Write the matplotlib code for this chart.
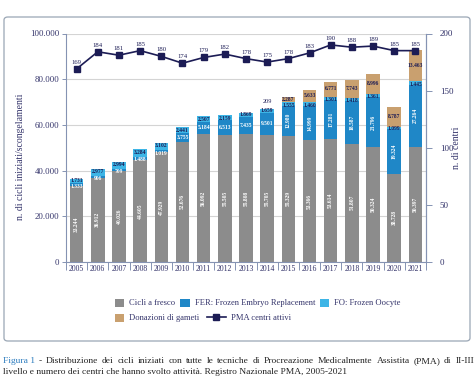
import matplotlib
matplotlib.use('Agg')
import matplotlib.pyplot as plt
import numpy as np
from matplotlib.patches import Patch, FancyBboxPatch
from matplotlib.lines import Line2D

# ---------------- data ----------------
years = [str(y) for y in range(2005, 2022)]
fresco = [33244, 36912, 40026, 44605, 47929, 52676, 56092, 55505, 55808,
          55705, 55329, 53366, 53614, 51807, 50324, 38728, 50397]
fer = [1333, 906, 709, 1488, 1019, 3755, 5184, 6513, 7435,
       9501, 12980, 14999, 17281, 18587, 21796, 19324, 27264]
fo = [1731, 2977, 2994, 3284, 3102, 2441, 2507, 2159, 1869,
      1659, 1555, 1460, 1301, 1418, 1361, 1099, 1445]
donazioni = [0, 0, 0, 0, 0, 0, 0, 0, 0,
             209, 2287, 5633, 6771, 7743, 8996, 8787, 13463]
centri = [169, 184, 181, 185, 180, 174, 179, 182, 178,
          175, 178, 183, 190, 188, 189, 185, 185]

legend_labels = ['Cicli a fresco', 'FER: Frozen Embryo Replacement',
                 'FO: Frozen Oocyte', 'Donazioni di gameti', 'PMA centri attivi']
ylabel_left = 'n. di cicli iniziati/scongelamenti'
ylabel_right = 'n. di centri'
caption_head = 'Figura 1'
caption_line1 = ('- Distribuzione dei cicli iniziati con tutte le tecniche di Procreazione '
                 'Medicalmente Assistita (PMA) di II-III')
caption_line2 = ('livello e numero dei centri che hanno svolto attività. Registro Nazionale PMA, '
                 '2005-2021')


def fmt(v):
    return f"{v:,}".replace(",", ".")


# ---------------- style ----------------
plt.rcParams['font.family'] = ['Liberation Serif', 'DejaVu Serif']
C_GRAY = '#8c8c8c'
C_FER = '#1f87c7'
C_FO = '#3db5e6'
C_DON = '#c9a06f'
C_LINE = '#1c1c55'
C_TXT = '#33336a'
C_SPINE = '#8593b3'

W, H = 474, 381
fig = plt.figure(figsize=(W / 100, H / 100), dpi=100)


def fx(px):
    return px / W


def fy(py):
    return 1 - py / H


box = FancyBboxPatch((fx(4), fy(341)), fx(470) - fx(4), fy(17) - fy(341),
                     boxstyle='round,pad=0,rounding_size=0.008',
                     transform=fig.transFigure, fc='none', ec='#9aa6b4', lw=0.9)
fig.patches.append(box)

ax = fig.add_axes([fx(66), fy(262), fx(426) - fx(66), fy(33.5) - fy(262)])
x = np.arange(len(years))
w = 0.64

fresco_a = np.array(fresco)
fer_a = np.array(fer)
fo_a = np.array(fo)
don_a = np.array(donazioni)

ax.bar(x, fresco_a, w, color=C_GRAY, zorder=2)
b1 = fresco_a
ax.bar(x, fer_a, w, bottom=b1, color=C_FER, zorder=2)
b2 = b1 + fer_a
ax.bar(x, fo_a, w, bottom=b2, color=C_FO, zorder=2)
b3 = b2 + fo_a
ax.bar(x, don_a, w, bottom=b3, color=C_DON, zorder=2)
b4 = b3 + don_a

LFS = 4.0
for i in x:
    ax.text(i, fresco_a[i] / 2, fmt(fresco_a[i]), rotation=90, ha='center', va='center',
            color='white', fontsize=LFS, fontweight='bold', zorder=4)
    if fer_a[i] > 10000:
        ax.text(i, b1[i] + fer_a[i] / 2, fmt(fer_a[i]), rotation=90, ha='center', va='center',
                color='white', fontsize=LFS, fontweight='bold', zorder=4)
    elif fer_a[i] > 3000:
        ax.text(i, b1[i] + fer_a[i] / 2, fmt(fer_a[i]), ha='center', va='center',
                color='white', fontsize=LFS, fontweight='bold', zorder=4)
    else:
        ax.text(i, b2[i] - 250, fmt(fer_a[i]), ha='center', va='top',
                color='white', fontsize=LFS, fontweight='bold', zorder=4)
    if fo_a[i] > 2000:
        ax.text(i, b3[i] - 150, fmt(fo_a[i]), ha='center', va='top',
                color=C_LINE, fontsize=LFS, fontweight='bold', zorder=4)
    else:
        ax.text(i, b2[i] + 200, fmt(fo_a[i]), ha='center',
                va='bottom' if don_a[i] < 1000 else 'center',
                color=C_LINE, fontsize=LFS, fontweight='bold', zorder=4)
    if don_a[i] > 1000:
        ax.text(i, b3[i] + don_a[i] / 2 + 300, fmt(don_a[i]), ha='center', va='center',
                color=C_LINE, fontsize=LFS, fontweight='bold', zorder=4)
    elif don_a[i] > 0:
        ax.text(i, b4[i] + 1900, fmt(don_a[i]), ha='center', va='bottom',
                color=C_LINE, fontsize=LFS + 0.4, zorder=4)

ax.set_xlim(-0.5, len(years) - 0.5)
ax.set_ylim(0, 100000)
ax.set_yticks(range(0, 100001, 20000))
ax.set_yticklabels([fmt(v) for v in range(0, 100001, 20000)])
ax.yaxis.grid(True, color='#d4d4d4', lw=0.8, zorder=0)
ax.set_axisbelow(True)
ax.set_xticks(x)
ax.set_xticklabels(years)
ax.set_xticks(np.arange(-0.5, len(years)), minor=True)
ax.tick_params(axis='x', which='major', length=0, pad=2.5, labelsize=5.6, labelcolor=C_TXT)
ax.tick_params(axis='x', which='minor', length=6, width=0.7, color=C_SPINE, direction='out')
ax.tick_params(axis='y', length=3, width=0.7, color=C_SPINE, labelsize=6.3, labelcolor=C_TXT, pad=2)
ax.spines['top'].set_visible(False)
for s in ['left', 'bottom', 'right']:
    ax.spines[s].set_color(C_SPINE)
    ax.spines[s].set_linewidth(0.8)
ax.set_ylabel(ylabel_left, fontsize=7, color=C_TXT)
ax.yaxis.set_label_coords(-0.114, 0.46)

ax2 = ax.twinx()
ax2.set_ylim(0, 200)
ax2.set_yticks(range(0, 201, 50))
ax2.plot(x, centri, color=C_LINE, marker='s', ms=5, lw=1.2, zorder=5)
for i in x:
    ax2.text(i, centri[i] + 3.5, str(centri[i]), ha='center', va='bottom',
             color=C_LINE, fontsize=4.8)
for s in ['top', 'left', 'bottom']:
    ax2.spines[s].set_visible(False)
ax2.spines['right'].set_color(C_SPINE)
ax2.spines['right'].set_linewidth(0.8)
ax2.tick_params(axis='y', length=4, width=0.7, color=C_SPINE, labelsize=6.5,
                labelcolor=C_TXT, pad=6)
ax2.set_ylabel(ylabel_right, fontsize=7, color=C_TXT)
ax2.yaxis.set_label_coords(1.072, 0.5)

# legend
h_fresco = Patch(facecolor=C_GRAY, edgecolor='none')
h_fer = Patch(facecolor=C_FER, edgecolor='none')
h_fo = Patch(facecolor=C_FO, edgecolor='none')
h_don = Patch(facecolor=C_DON, edgecolor='none')
h_line = Line2D([], [], color=C_LINE, marker='s', ms=5, lw=1.2)
leg_kw = dict(frameon=False, fontsize=6.1, labelcolor=C_TXT, handlelength=1.1,
              handleheight=1.1, handletextpad=0.6, columnspacing=0.55, borderpad=0,
              borderaxespad=0, loc='center left')
fig.legend([h_fresco, h_fer, h_fo], legend_labels[:3], ncol=3,
           bbox_to_anchor=(fx(115), fy(303)), **leg_kw)
fig.legend([h_don], legend_labels[3:4], ncol=1,
           bbox_to_anchor=(fx(115), fy(318)), **leg_kw)
leg_kw3 = dict(leg_kw)
leg_kw3['handlelength'] = 2.2
fig.legend([h_line], legend_labels[4:], ncol=1,
           bbox_to_anchor=(fx(207), fy(318)), **leg_kw3)

# caption (line 1 justified to the full width, like the source)
CFS = 6.8
renderer = fig.canvas.get_renderer()
words = [(caption_head, '#2c7cbf')] + [(wd, '#222222') for wd in caption_line1.split(' ')]
widths = []
for wd, c in words:
    t = fig.text(0, 0, wd, fontsize=CFS)
    widths.append(t.get_window_extent(renderer=renderer).width)
    t.remove()
x_start, x_end = 3, 474
gap = (x_end - x_start - sum(widths)) / (len(words) - 1)
cur = x_start
for (wd, c), wpx in zip(words, widths):
    fig.text(fx(cur), fy(361), wd, color=c, fontsize=CFS, va='center')
    cur += wpx + gap
fig.text(fx(3), fy(372.5), caption_line2, color='#222222', fontsize=CFS, va='center')

fig.savefig('out.png', dpi=100)
